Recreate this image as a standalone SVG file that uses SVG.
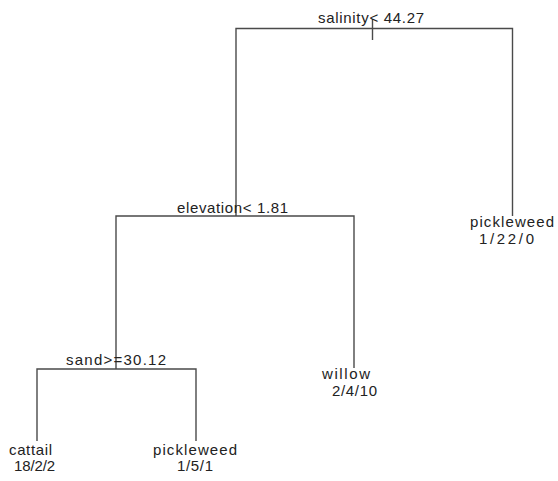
<svg xmlns="http://www.w3.org/2000/svg" width="558" height="481" viewBox="0 0 558 481">
<style>
.e{fill:none;stroke:#4a4a4a;stroke-width:1.4}
text{font-family:"Liberation Sans",Arial,sans-serif;font-size:15px;fill:#222}
</style>
<rect width="558" height="481" fill="#fff"/>
<g id="connectors">
<path class="e" d="M236,216 V28.5 H512.5 V216"/>
<path class="e" d="M372.5,19 V40"/>
<path class="e" d="M116,369 V216 H354 V368"/>
<path class="e" d="M37,441 V369 H196 V441"/>
</g>
<g id="n-salinity"><text x="318" y="22.5" textLength="106" lengthAdjust="spacing">salinity&lt; 44.27</text></g>
<g id="n-elevation"><text x="177" y="213" textLength="111" lengthAdjust="spacing">elevation&lt; 1.81</text></g>
<g id="n-pickleweed-r"><text x="470" y="227" textLength="84" lengthAdjust="spacing">pickleweed</text><text x="479" y="244" textLength="55" lengthAdjust="spacing">1/22/0</text></g>
<g id="n-sand"><text x="66" y="365" textLength="100" lengthAdjust="spacing">sand&gt;=30.12</text></g>
<g id="n-willow"><text x="322" y="379" textLength="48" lengthAdjust="spacing">willow</text><text x="332" y="396" textLength="45" lengthAdjust="spacing">2/4/10</text></g>
<g id="n-cattail"><text x="9" y="455" textLength="43" lengthAdjust="spacing">cattail</text><text x="14" y="471" textLength="41" lengthAdjust="spacing">18/2/2</text></g>
<g id="n-pickleweed-b"><text x="153" y="455" textLength="84" lengthAdjust="spacing">pickleweed</text><text x="177" y="471" textLength="36" lengthAdjust="spacing">1/5/1</text></g>
</svg>
